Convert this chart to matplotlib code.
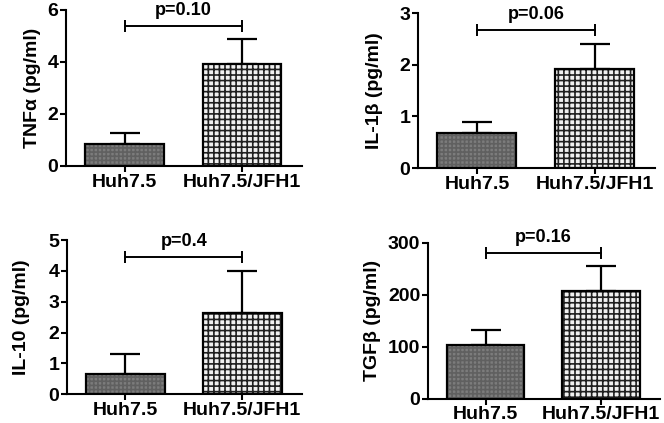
import matplotlib
matplotlib.use("Agg")
import matplotlib.pyplot as plt

plt.rcParams['font.family'] = ['Liberation Sans', 'DejaVu Sans']
plt.rcParams['font.weight'] = 'bold'
plt.rcParams['hatch.linewidth'] = 1.2

groups = ["Huh7.5", "Huh7.5/JFH1"]

tnf_mean = [0.85, 3.93]
tnf_err = [0.42, 0.94]
il1b_mean = [0.68, 1.92]
il1b_err = [0.22, 0.48]
il10_mean = [0.65, 2.64]
il10_err = [0.67, 1.34]
tgfb_mean = [103, 208]
tgfb_err = [30, 47]

ylabels = ["TNF\u03b1 (pg/ml)", "IL-1\u03b2 (pg/ml)", "IL-10 (pg/ml)", "TGF\u03b2 (pg/ml)"]
pvals = ["p=0.10", "p=0.06", "p=0.4", "p=0.16"]
sig_heights = [5.4, 2.67, 4.44, 281]
ymax = [6, 3, 5, 300]
ystep = [2, 1, 1, 100]

means = [tnf_mean, il1b_mean, il10_mean, tgfb_mean]
errs = [tnf_err, il1b_err, il10_err, tgfb_err]

positions = [
    [0.0994, 0.6076, 0.4548 - 0.0994, 0.9764 - 0.6076],
    [0.6295, 0.6028, 0.9865 - 0.6295, 0.9685 - 0.6028],
    [0.1009, 0.0678, 0.4548 - 0.1009, 0.4326 - 0.0678],
    [0.6446, 0.0574, 0.994 - 0.6446, 0.4262 - 0.0574],
]
labelpads = [5, 12, 13, 5]

fig = plt.figure(figsize=(6.64, 4.23), dpi=100)
x = [0, 1]
w = 0.67
for i in range(4):
    ax = fig.add_axes(positions[i])
    m = means[i]
    e = errs[i]
    # error bars (upper only)
    ax.errorbar(x, m, yerr=[[0, 0], e], fmt='none', ecolor='black',
                elinewidth=1.6, capsize=11, capthick=1.6, zorder=1)
    # fills
    ax.bar([x[0]], [m[0]], width=w, color='#7c7c7c', edgecolor='#606060',
           hatch='++++', linewidth=0, zorder=2)
    ax.bar([x[1]], [m[1]], width=w, color='#f0f0f0', edgecolor='#202020',
           hatch='+++', linewidth=0, zorder=2)
    # outlines
    ax.bar(x, m, width=w, fill=False, edgecolor='black', linewidth=1.6, zorder=3)
    # significance bar
    ax.plot([x[0], x[1]], [sig_heights[i]] * 2, color='black', lw=1.4,
            marker='|', markersize=8, markeredgewidth=1.4, clip_on=False, zorder=4)
    ax.text(0.5, sig_heights[i] + ymax[i] * 0.045, pvals[i], ha='center', va='bottom',
            fontsize=13, fontweight='bold')
    ax.set_xlim(-0.5, 1.51)
    ax.set_ylim(0, ymax[i])
    ax.set_yticks(list(range(0, ymax[i] + 1, ystep[i])))
    ax.set_xticks(x)
    ax.set_xticklabels(groups)
    ax.spines['top'].set_visible(False)
    ax.spines['right'].set_visible(False)
    ax.spines['left'].set_linewidth(1.5)
    ax.spines['bottom'].set_linewidth(1.5)
    ax.tick_params(axis='both', width=1.5, length=4, labelsize=14, pad=1.5)
    ax.set_ylabel(ylabels[i], fontsize=14, fontweight='bold', labelpad=labelpads[i])
    for t in ax.get_xticklabels() + ax.get_yticklabels():
        t.set_fontweight('bold')

fig.savefig("out.png", dpi=100)
